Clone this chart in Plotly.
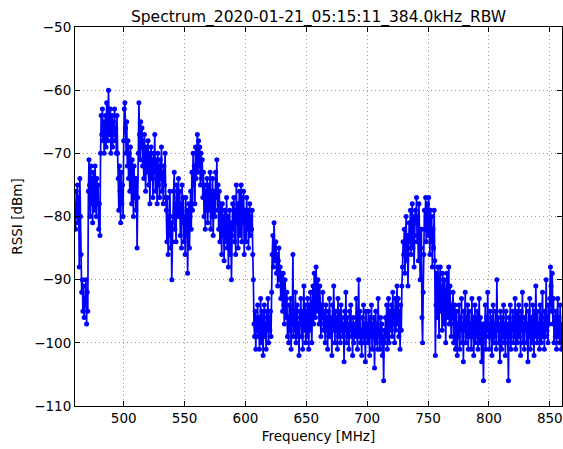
import numpy as np
import plotly.graph_objects as go

# sample grid of the sweep, 0.5 MHz steps from 460 to 860 MHz
freq_mhz = np.arange(460.0, 860.01, 0.5)

# RSSI readings [dBm] in 50 MHz blocks
rssi_460 = [-78,-82,-76,-80,-75,-81,-77,-88,-74,-80,
            -86,-92,-90,-95,-91,-96,-93,-94,-90,-97,
            -92,-95,-76,-71,-75,-80,-72,-78,-74,-81,
            -73,-77,-79,-72,-76,-80,-74,-78,-75,-82,
            -78,-83,-70,-64,-67,-63,-68,-65,-70,-66,
            -64,-69,-62,-66,-68,-60,-65,-67,-63,-70,
            -66,-64,-69,-65,-67,-63,-68,-66,-70,-64,
            -70,-74,-79,-72,-76,-81,-73,-78,-75,-80,
            -68,-63,-62,-66,-70,-65,-72,-68,-74,-70,
            -76,-69,-73,-78,-71,-75,-80,-72,-77,-74]
rssi_510 = [-79,-74,-85,-77,-70,-62,-67,-71,-65,-69,
            -66,-72,-68,-74,-67,-70,-76,-69,-73,-71,
            -68,-75,-70,-78,-72,-69,-74,-71,-77,-70,
            -73,-67,-76,-71,-74,-78,-70,-75,-72,-77,
            -71,-74,-69,-76,-73,-78,-72,-75,-70,-77,
            -79,-84,-77,-86,-80,-83,-76,-85,-81,-90,
            -84,-80,-76,-73,-82,-78,-84,-75,-80,-77,
            -74,-80,-76,-83,-78,-85,-75,-81,-77,-84,
            -80,-86,-77,-83,-79,-89,-82,-78,-85,-80,
            -76,-82,-73,-79,-70,-75,-72,-78,-69,-74]
rssi_560 = [-70,-67,-73,-68,-72,-69,-75,-70,-74,-71,
            -77,-73,-80,-75,-82,-76,-79,-74,-81,-77,
            -75,-79,-73,-82,-76,-80,-74,-83,-78,-76,
            -80,-73,-77,-71,-79,-75,-82,-76,-84,-78,
            -81,-86,-78,-83,-80,-87,-79,-84,-82,-77,
            -85,-80,-88,-82,-79,-86,-81,-90,-83,-78,
            -82,-77,-84,-79,-86,-75,-81,-78,-85,-80,
            -76,-83,-79,-75,-84,-77,-81,-76,-86,-79,
            -80,-84,-77,-82,-79,-85,-81,-78,-83,-80,
            -82,-79,-86,-90,-97,-99,-95,-101,-96,-98]
rssi_610 = [-94,-99,-96,-101,-97,-93,-100,-95,-98,-102,
            -96,-94,-99,-97,-101,-95,-98,-93,-100,-96,
            -98,-95,-99,-92,-86,-83,-88,-81,-85,-87,
            -84,-89,-86,-91,-87,-85,-90,-88,-93,-89,
            -91,-95,-89,-94,-97,-90,-93,-96,-92,-99,
            -96,-100,-94,-98,-93,-101,-97,-95,-86,-99,
            -95,-98,-92,-100,-96,-94,-99,-97,-102,-95,
            -97,-93,-99,-95,-101,-96,-91,-98,-94,-100,
            -95,-99,-93,-97,-101,-94,-98,-92,-96,-100,
            -94,-91,-97,-89,-93,-96,-88,-92,-95,-90]
rssi_660 = [-93,-97,-91,-95,-99,-94,-96,-92,-98,-95,
            -97,-100,-94,-98,-96,-101,-95,-99,-93,-97,
            -99,-96,-102,-94,-98,-91,-97,-100,-95,-98,
            -96,-101,-93,-99,-97,-95,-100,-94,-98,-96,
            -99,-97,-103,-95,-98,-92,-100,-96,-99,-97,
            -101,-95,-98,-94,-99,-97,-102,-96,-100,-98,
            -97,-99,-93,-98,-101,-96,-90,-99,-95,-100,
            -98,-102,-96,-99,-94,-100,-97,-103,-95,-99,
            -97,-100,-95,-98,-102,-96,-99,-94,-101,-97,
            -99,-96,-104,-98,-95,-100,-97,-101,-93,-99]
rssi_710 = [-98,-101,-96,-100,-97,-102,-99,-106,-98,-100,
            -96,-99,-94,-101,-97,-93,-100,-95,-98,-96,
            -94,-99,-92,-97,-95,-100,-93,-98,-96,-91,
            -97,-93,-99,-95,-101,-94,-98,-91,-88,-84,
            -86,-82,-89,-84,-80,-87,-83,-91,-85,-81,
            -84,-79,-86,-82,-78,-85,-80,-88,-83,-79,
            -81,-77,-84,-80,-87,-78,-83,-90,-85,-82,
            -96,-100,-92,-86,-79,-82,-77,-84,-80,-78,
            -83,-77,-81,-86,-79,-84,-80,-88,-82,-85,
            -79,-87,-102,-94,-89,-96,-88,-92,-99,-90]
rssi_760 = [-88,-95,-91,-98,-89,-93,-97,-90,-94,-100,
            -92,-89,-96,-93,-88,-97,-91,-95,-99,-94,
            -96,-92,-100,-97,-94,-101,-98,-95,-102,-97,
            -99,-94,-101,-96,-98,-93,-100,-97,-103,-95,
            -98,-92,-100,-96,-99,-94,-101,-97,-95,-99,
            -97,-101,-93,-99,-96,-102,-98,-94,-100,-96,
            -99,-95,-101,-97,-93,-100,-96,-98,-103,-97,
            -100,-106,-97,-99,-94,-101,-96,-98,-92,-99,
            -97,-101,-95,-99,-96,-102,-98,-94,-100,-97,
            -99,-95,-101,-90,-98,-96,-100,-97,-103,-95]
rssi_810 = [-98,-101,-96,-99,-94,-100,-97,-102,-95,-99,
            -97,-100,-106,-96,-99,-94,-101,-97,-98,-95,
            -100,-96,-99,-93,-101,-97,-95,-100,-98,-94,
            -99,-96,-102,-95,-98,-92,-100,-97,-101,-96,
            -98,-94,-100,-97,-103,-95,-99,-93,-101,-97,
            -96,-100,-94,-98,-102,-95,-99,-91,-97,-100,
            -95,-99,-97,-101,-94,-98,-100,-96,-92,-99,
            -97,-101,-95,-99,-90,-98,-96,-100,-94,-97,
            -93,-88,-91,-95,-89,-97,-93,-100,-96,-99,
            -95,-101,-97,-93,-99,-96,-100,-94,-98,-101,
            -97]

rssi = (rssi_460 + rssi_510 + rssi_560 + rssi_610 +
        rssi_660 + rssi_710 + rssi_760 + rssi_810)

fig = go.Figure()
fig.add_trace(go.Scatter(x=freq_mhz, y=rssi, mode='lines+markers',
                         line=dict(color='#0000ff', width=1.7, simplify=False),
                         marker=dict(color='#0000ff', size=5),
                         showlegend=False))

axis_style = dict(showline=True, linecolor='black', linewidth=1, mirror='allticks',
                  ticks='inside', ticklen=5, tickcolor='black', automargin=False,
                  showgrid=True, gridcolor='#999999', griddash='1px,3px', gridwidth=1,
                  zeroline=False, tickfont=dict(size=13.5, color='black'))

fig.update_layout(
    width=563, height=449,
    margin={'l': 75, 'r': 1, 'b': 43, 't': 27},
    paper_bgcolor='white', plot_bgcolor='white',
    font=dict(family='DejaVu Sans', color='black'),
    title=dict(text='Spectrum_2020-01-21_05:15:11_384.0kHz_RBW',
               x=0.5, xref='paper', xanchor='center',
               y=0.962, yref='container', yanchor='middle', automargin=False,
               font=dict(size=15.5, color='black')),
    xaxis=dict(range=[460, 860], tickvals=[500, 550, 600, 650, 700, 750, 800, 850],
               title=dict(text='Frequency [MHz]', font=dict(size=13.5), standoff=6),
               **axis_style),
    yaxis=dict(range=[-110, -50], dtick=10,
               title=dict(text='RSSI [dBm]', font=dict(size=13.5), standoff=8),
               **axis_style),
)

# drop the default body margin so the figure fills the window exactly
fig.write_html("out.html", config={'displayModeBar': False},
               post_script="document.body.style.margin='0';document.body.style.overflow='hidden';")
